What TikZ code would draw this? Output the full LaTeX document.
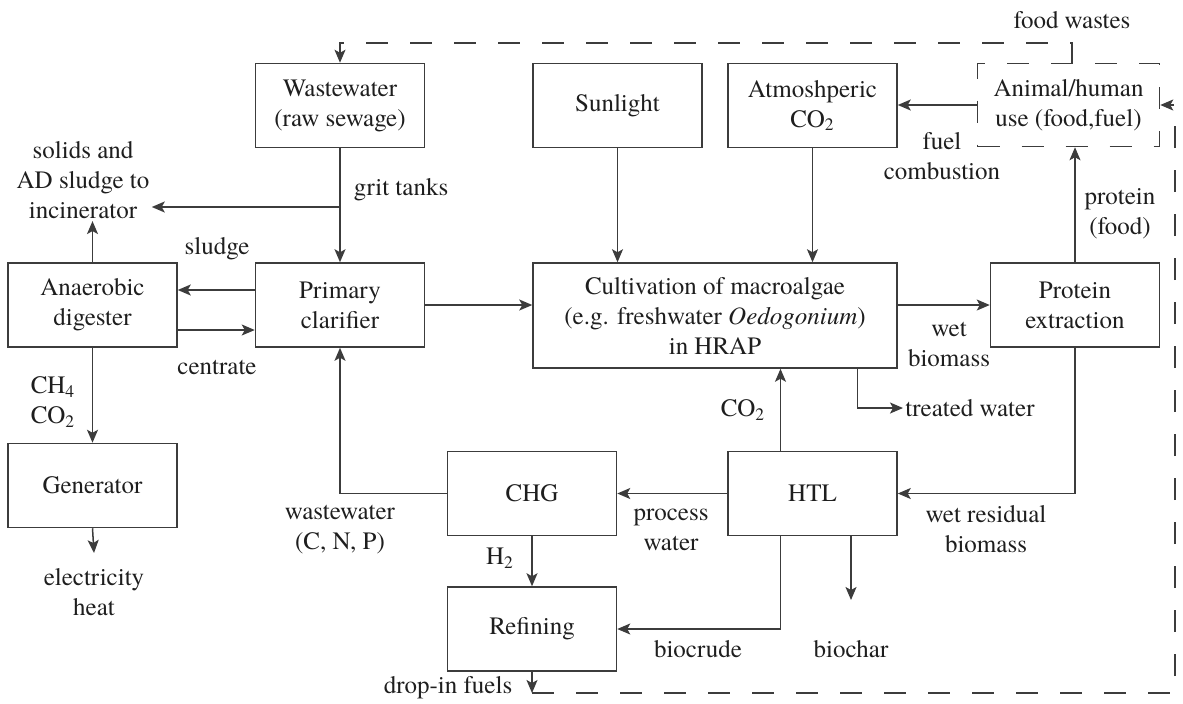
\documentclass[tikz,border=0pt]{standalone}
\usepackage{fontspec}
\setmainfont{texgyretermes}[
	Extension=.otf, UprightFont=*-regular, ItalicFont=*-italic,
	BoldFont=*-bold, BoldItalicFont=*-bolditalic]
\usepackage{xcolor}
\usepackage{tikz}
\usetikzlibrary{positioning, calc, arrows.meta}
\definecolor{linec}{RGB}{60,60,60}
\definecolor{txtc}{RGB}{30,30,30}
\tikzstyle{Box} = [
draw=linec, line width=0.75pt, text=txtc, align=center,
minimum width=84.5pt, minimum height=42pt, inner sep=0pt
]
\tikzstyle{Arrow} = [
draw=linec, line width=0.75pt,
-{Stealth[length=6.5pt, width=5.5pt, inset=1.5pt]}
]
\tikzstyle{Dashes} = [dash pattern=on 11pt off 11pt]
\tikzstyle{Label} = [text=txtc, align=center, inner sep=1pt]

\begin{document}
\begin{tikzpicture}[x=0.5pt, y=-0.5pt, font=\fontsize{12.5}{15}\selectfont]
			\useasboundingbox (0,0) rectangle (1183,703);
			\node [Box] (clar) at (340,305) {Primary\\clarifier};
			\node [Box, above =57pt of clar] (ww) {Wastewater\\(raw sewage)};
			\node [Box, left =38.5pt of clar] (ad) {Anaerobic\\digester};
			\node [Box, below =47.5pt of ad] (gen) {Generator};
			\node [Box, minimum width=182pt, minimum height=52.5pt, anchor=north west] (cult)
				at ([xshift=53.5pt]clar.north east)
				{Cultivation of macroalgae\\(e.g. freshwater \textit{Oedogonium})\\in HRAP};
			\node [Box, anchor=south west] (sun) at ([yshift=57pt]cult.north west) {Sunlight};
			\node [Box, anchor=south east] (atm) at ([yshift=57pt]cult.north east) {Atmoshperic\\CO\textsubscript{2}};
			\node [Box, anchor=north west] (prot) at ([xshift=46pt]cult.north east) {Protein\\extraction};
			\node [Box, Dashes, minimum width=91pt, minimum height=41.5pt, anchor=south east] (use)
				at ([yshift=57.5pt]prot.north east) {Animal/human\\use (food,fuel)};
			\node [Box, anchor=north east] (htl) at ([yshift=-41pt]cult.south east) {HTL};
			\node [Box, left =55pt of htl] (chg) {CHG};
			\node [Box, below =25pt of chg] (ref) {Refining};
			
			\node [Label] (inc) at (83,180) {solids and\\AD sludge to\\incinerator};
			\node [Label] (grit) at (401,190) {grit tanks};
			\node [Label] (sludge) at (217,249) {sludge};
			\node [Label] (centr) at (217,367) {centrate};
			\node [Label] (gas) at (53,402) {CH\textsubscript{4}\\CO\textsubscript{2}};
			\node [Label] (elec) at (94,592) {electricity\\heat};
			\node [Label] (food) at (1072,20) {food wastes};
			\node [Label] (comb) at (942,156) {fuel\\combustion};
			\node [Label] (protf) at (1120,214) {protein\\(food)};
			\node [Label] (wetb) at (949,344) {wet\\biomass};
			\node [Label] (co2) at (743,410) {CO\textsubscript{2}};
			\node [Label] (tw) at (970,408) {treated water};
			\node [Label] (wrb) at (986,529) {wet residual\\biomass};
			\node [Label] (procw) at (671,530) {process\\water};
			\node [Label] (wwc) at (340,529) {wastewater\\(C, N, P)};
			\node [Label] (h2) at (500,558) {H\textsubscript{2}};
			\node [Label] (crude) at (698,649) {biocrude};
			\node [Label] (char) at (851,649) {biochar};
			\node [Label] (drop) at (448,688) {drop-in fuels};
			
			\coordinate (gritpt) at (340,207);
			\coordinate (elecpt) at (94,553);
			\coordinate (charpt) at (851,600);
			\coordinate (fuelpt) at (532,693);
			\coordinate (protx) at (1072,0);
			\coordinate (loopx) at (1175,0);
			\coordinate (topy) at (0,43);
			
			\draw[Arrow] (ww.south) -- (clar.north);
			\draw[Arrow] (gritpt) -- (gritpt -| inc.east);
			\draw[Arrow] (ad.north) -- (ad.north |- inc.south);
			\draw[Arrow] ([yshift=7.5pt]clar.west) -- ([yshift=7.5pt]ad.east);
			\draw[Arrow] ([yshift=-12.5pt]ad.east) -- ([yshift=-12.5pt]clar.west);
			\draw[Arrow] (ad.south) -- (gen.north);
			\draw[Arrow] (gen.south) -- (elecpt);
			\draw[Arrow] (clar.east) -- (clar.east -| cult.west);
			\draw[Arrow] (sun.south) -- (sun.south |- cult.north);
			\draw[Arrow] (atm.south) -- (atm.south |- cult.north);
			\draw[Arrow] (use.west) -- (use.west -| atm.east);
			\draw[Arrow] (prot.west -| cult.east) -- (prot.west);
			\draw[Arrow] (prot.north) -- (prot.north |- use.south);
			\draw[Arrow] (prot.south) |- (htl.east);
			\draw[Arrow] ([xshift=-16pt]htl.north) -- ([xshift=-16pt]htl.north |- cult.south);
			\draw[Arrow] ([xshift=71.25pt]cult.south) |- (tw.west);
			\draw[Arrow] (htl.west) -- (chg.east);
			\draw[Arrow] (chg.west) -| (clar.south);
			\draw[Arrow] (chg.south) -- (ref.north);
			\draw[Arrow] ([xshift=-16pt]htl.south) |- (ref.east);
			\draw[Arrow] (charpt |- htl.south) -- (charpt);
			\draw[Arrow] (ref.south) -- (fuelpt);
			
			\draw[Arrow, Dashes] (fuelpt) -| (loopx |- use.east) -- (use.east);
			\draw[Arrow, Dashes] (protx |- use.north) |- (topy -| ww.north) -- (ww.north);
		\end{tikzpicture}
\end{document}
